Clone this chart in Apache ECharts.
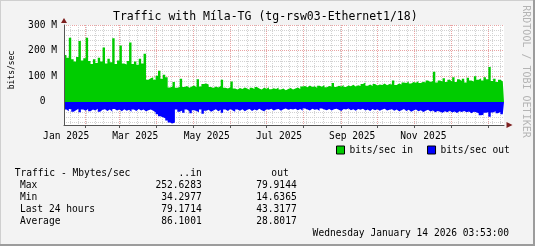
<!DOCTYPE html>
<html><head><meta charset="utf-8">
<script src="https://cdn.jsdelivr.net/npm/echarts@6/dist/echarts.min.js"></script>
<style>html,body{margin:0;padding:0;background:#f3f3f3}#c{width:535px;height:246px}</style>
</head><body><div id="c"></div>
<script>
// ---------------- data ----------------
const START = '2025-01-14 03:53';
const END = '2026-01-14 03:53';
const STEP_DAYS = 2;
const titleText = 'Traffic with Míla-TG (tg-rsw03-Ethernet1/18)';
const seriesNames = ['bits/sec in', 'bits/sec out'];
// Mbit/s, one value per 2-day step
const inValues = [
  183,172,250,166,158,175,238,162,170,250,
  160,148,166,152,172,158,212,150,168,155,
  248,148,162,220,150,146,160,232,148,158,
  145,168,150,188,86,92,96,86,102,122,
  90,106,96,56,60,78,55,58,90,58,
  62,55,60,64,57,88,60,70,72,68,
  58,54,60,56,62,86,55,52,57,80,
  52,48,54,50,56,52,47,55,50,58,
  52,48,55,51,57,49,53,50,56,48,
  52,46,50,54,48,52,56,50,60,62,
  57,64,58,61,55,63,59,66,57,62,
  60,74,58,63,60,66,58,64,61,67,
  60,65,62,70,76,63,68,62,70,64,
  68,66,72,65,70,68,84,66,72,68,
  76,74,80,72,78,75,82,74,79,76,
  84,78,82,118,76,84,80,92,78,86,
  80,96,78,88,82,90,76,94,84,80,
  100,86,92,84,96,88,136,82,90,78,
  86,80,84
];
const outValues = [
  30,36,28,38,32,27,40,30,34,28,
  36,30,33,27,38,31,29,35,30,37,
  28,33,30,36,29,34,31,38,30,35,
  28,33,30,36,32,30,34,40,48,56,
  60,64,72,80,84,80,30,38,33,42,
  30,36,44,32,35,40,30,46,34,31,
  38,33,29,36,31,42,30,35,28,33,
  38,30,34,29,36,31,28,35,30,33,
  27,32,36,29,31,27,33,30,28,34,
  29,26,31,28,30,27,32,28,34,26,
  30,33,27,31,29,34,26,30,32,28,
  33,29,27,31,35,28,30,26,32,29,
  34,28,31,27,33,30,35,28,32,29,
  34,30,27,33,31,29,34,30,36,32,
  28,35,31,38,33,30,36,32,39,34,
  31,37,33,40,35,38,42,36,40,34,
  41,37,43,36,39,35,40,37,44,38,
  40,44,52,50,42,40,58,41,36,44,
  39,48,42
];
const yMin = -90, yMax = 300;
const yTicksMajor = [0, 100, 200, 300];
const yTicksMinor = [-80,-60,-40,-20,20,40,60,80,120,140,160,180,220,240,260,280];
const monthStarts = ['2025-02-01','2025-03-01','2025-04-01','2025-05-01','2025-06-01','2025-07-01',
  '2025-08-01','2025-09-01','2025-10-01','2025-11-01','2025-12-01','2026-01-01'];
const xLabelDates = ['2025-01-16 00:00','2025-03-14 06:00','2025-05-12 14:00','2025-07-11 12:00','2025-09-10 06:00','2025-11-08 06:00'];
const monthNames = ['Jan','Feb','Mar','Apr','May','Jun','Jul','Aug','Sep','Oct','Nov','Dec'];
const statHeader = ['Traffic - Mbytes/sec', '..in', 'out'];
const statRows = ['Max', 'Min', 'Last 24 hours', 'Average'];
const statIn = ['252.6283', '34.2977', '79.1714', '86.1001'];
const statOut = ['79.9144', '14.6365', '43.3177', '28.8017'];
const stampText = 'Wednesday January 14 2026 03:53:00';
const watermark = 'RRDTOOL / TOBI OETIKER';
const yName = 'bits/sec';

// ---------------- build ----------------
function ts(s) {
  const parts = s.split(' ');
  const d = parts[0].split('-').map(Number);
  const t = (parts[1] || '00:00').split(':').map(Number);
  return new Date(d[0], d[1] - 1, d[2], t[0], t[1]).getTime();
}
const DAY = 86400000;
const t0 = ts(START), t1 = ts(END);
const times = inValues.map((_, i) => t0 + i * STEP_DAYS * DAY);
const inData = times.map((t, i) => [t, inValues[i]]);
inData.push([t1, inValues[inValues.length - 1]]);
const outData = times.map((t, i) => [t, -outValues[i]]);
outData.push([t1, -outValues[outValues.length - 1]]);

const monthTs = monthStarts.map(ts);
const labelTs = xLabelDates.map(ts);
const weekTs = [];
(function () {
  const d = new Date(t0); d.setHours(0, 0, 0, 0);
  while (d.getDay() !== 0) d.setDate(d.getDate() + 1);
  while (d.getTime() < t1) {
    if (monthTs.indexOf(d.getTime()) < 0) weekTs.push(d.getTime());
    d.setDate(d.getDate() + 7);
  }
})();

const MONO = 'DejaVu Sans Mono';
const FS = 9.6;
const RED = '#e9a3a3', GRAY = '#d2d2d2', AXIS = '#555555', ARROW = '#7e1f1f';

function xAx(extra) {
  return Object.assign({
    type: 'value', min: t0, max: t1, position: 'bottom', gridIndex: 0, scale: true,
    axisLine: { show: false, onZero: false },
    axisTick: { show: false }, axisLabel: { show: false }, splitLine: { show: false }
  }, extra);
}
function yAx(extra) {
  return Object.assign({
    type: 'value', min: yMin, max: yMax, position: 'left', gridIndex: 0,
    axisLine: { show: false, onZero: false },
    axisTick: { show: false }, axisLabel: { show: false }, splitLine: { show: false }
  }, extra);
}

const chart = echarts.init(document.getElementById('c'), null, { renderer: 'canvas', width: 535, height: 246 });

const graphics = [
  { type: 'rect', shape: { x: 0, y: 0, width: 535, height: 1 }, style: { fill: '#cfcfcf' }, silent: true },
  { type: 'rect', shape: { x: 0, y: 0, width: 1, height: 246 }, style: { fill: '#cfcfcf' }, silent: true },
  { type: 'rect', shape: { x: 0, y: 244, width: 535, height: 2 }, style: { fill: '#9c9c9c' }, silent: true },
  { type: 'rect', shape: { x: 533, y: 0, width: 2, height: 246 }, style: { fill: '#9c9c9c' }, silent: true },
  { type: 'text', x: 11.5, y: 70, rotation: Math.PI / 2,
    style: { text: yName, fontFamily: MONO, fontSize: 8, fill: '#000', align: 'center', verticalAlign: 'middle' } },
  { type: 'text', x: 526, y: 71.5, rotation: -Math.PI / 2,
    style: { text: watermark, fontFamily: MONO, fontSize: 10, fill: '#b4b4b4', align: 'center', verticalAlign: 'middle' } },
  { type: 'text', x: 14.7, y: 173.3, style: { text: statHeader[0], fontFamily: MONO, fontSize: FS, fill: '#000', align: 'left', verticalAlign: 'middle' } },
  { type: 'text', x: 201.7, y: 173.3, style: { text: statHeader[1], fontFamily: MONO, fontSize: FS, fill: '#000', align: 'right', verticalAlign: 'middle' } },
  { type: 'text', x: 288.7, y: 173.3, style: { text: statHeader[2], fontFamily: MONO, fontSize: FS, fill: '#000', align: 'right', verticalAlign: 'middle' } },
  { type: 'text', x: 509, y: 233.3, style: { text: stampText, fontFamily: MONO, fontSize: FS, fill: '#000', align: 'right', verticalAlign: 'middle' } }
];
const rowY = [185, 197.3, 209.6, 221.8];
statRows.forEach((r, i) => {
  graphics.push({ type: 'text', x: 20, y: rowY[i], style: { text: r, fontFamily: MONO, fontSize: FS, fill: '#000', align: 'left', verticalAlign: 'middle' } });
  graphics.push({ type: 'text', x: 201.7, y: rowY[i], style: { text: statIn[i], fontFamily: MONO, fontSize: FS, fill: '#000', align: 'right', verticalAlign: 'middle' } });
  graphics.push({ type: 'text', x: 296.7, y: rowY[i], style: { text: statOut[i], fontFamily: MONO, fontSize: FS, fill: '#000', align: 'right', verticalAlign: 'middle' } });
});

chart.setOption({
  animation: false,
  backgroundColor: '#f3f3f3',
  title: {
    text: titleText, left: 113, top: 11.5, padding: 0,
    textStyle: { fontFamily: MONO, fontSize: 11.5, fontWeight: 'normal', color: '#000' }
  },
  legend: {
    data: seriesNames, left: 336, top: 145, icon: 'rect', itemWidth: 8, itemHeight: 8, itemGap: 14,
    selectedMode: false, padding: 0,
    itemStyle: { borderColor: '#000', borderWidth: 1 },
    textStyle: { fontFamily: MONO, fontSize: FS, color: '#000' }
  },
  grid: { left: 64, right: 31, top: 25, bottom: 121, show: true, backgroundColor: '#ffffff', borderWidth: 0 },
  xAxis: [
    xAx({
      axisTick: { show: false, customValues: monthTs },
      splitLine: { show: true, lineStyle: { color: RED, width: 1, type: [1, 1] } },
      axisLabel: {
        show: true, customValues: labelTs, margin: 6,
        fontFamily: MONO, fontSize: FS, color: '#000',
        formatter: function (v) { const d = new Date(v); return monthNames[d.getMonth()] + ' ' + d.getFullYear(); }
      }
    }),
    xAx({
      axisTick: { show: false, customValues: weekTs },
      splitLine: { show: true, lineStyle: { color: GRAY, width: 1, type: [1, 1] } }
    }),
    xAx({
      z: 5,
      axisLine: { show: true, onZero: false, lineStyle: { color: AXIS, width: 1 } },
      axisTick: { show: true, customValues: monthTs, length: 3, lineStyle: { color: AXIS, width: 1 } }
    }),
    xAx({
      z: 6,
      axisLine: { show: true, onZero: false, symbol: ['none', 'triangle'], symbolSize: [6, 6], symbolOffset: [0, 5.5],
        lineStyle: { color: ARROW, width: 0 } }
    })
  ],
  yAxis: [
    yAx({
      axisTick: { show: false, customValues: yTicksMajor },
      splitLine: { show: true, lineStyle: { color: RED, width: 1, type: [1, 1] } },
      axisLabel: {
        show: true, customValues: yTicksMajor, margin: 7,
        fontFamily: MONO, fontSize: FS, color: '#000',
        formatter: function (v) { return v === 0 ? '0  ' : v + ' M'; }
      }
    }),
    yAx({
      axisTick: { show: false, customValues: yTicksMinor },
      splitLine: { show: true, lineStyle: { color: GRAY, width: 1, type: [1, 1] } }
    }),
    yAx({
      z: 5,
      axisLine: { show: true, onZero: false, lineStyle: { color: AXIS, width: 1 } }
    }),
    yAx({
      z: 6,
      axisLine: { show: true, onZero: false, symbol: ['none', 'triangle'], symbolSize: [6, 5], symbolOffset: [0, 4.5],
        lineStyle: { color: ARROW, width: 0 } }
    })
  ],
  series: [
    { type: 'line', name: seriesNames[0], data: inData, step: 'end', symbol: 'none', showSymbol: false,
      xAxisIndex: 0, yAxisIndex: 0, z: 2, silent: true,
      itemStyle: { color: '#00cc00' }, lineStyle: { width: 0, color: '#00cc00' },
      areaStyle: { color: '#00cc00', opacity: 1 } },
    { type: 'line', name: seriesNames[1], data: outData, step: 'end', symbol: 'none', showSymbol: false,
      xAxisIndex: 0, yAxisIndex: 0, z: 2, silent: true,
      itemStyle: { color: '#0000ff' }, lineStyle: { width: 0, color: '#0000ff' },
      areaStyle: { color: '#0000ff', opacity: 1 } }
  ],
  graphic: graphics
});
</script>
</body></html>
